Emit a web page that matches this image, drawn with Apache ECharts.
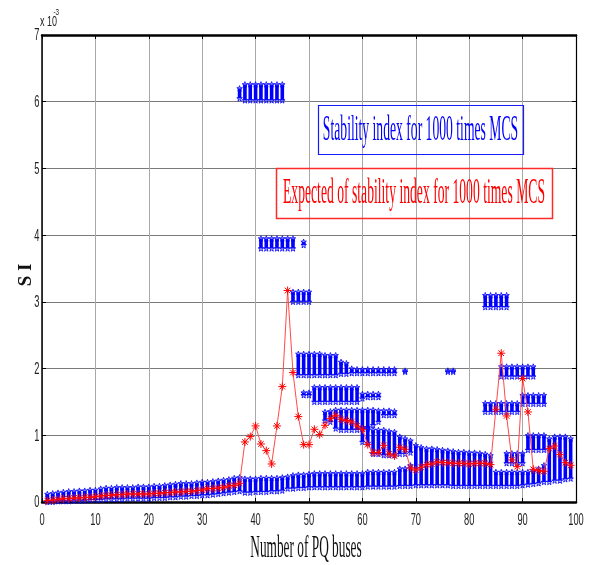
<!DOCTYPE html>
<html><head><meta charset="utf-8">
<script src="https://cdn.jsdelivr.net/npm/echarts@6/dist/echarts.min.js"></script>
<style>html,body{margin:0;padding:0;background:#fff}#c{width:589px;height:565px}</style>
</head><body><div id="c"></div>
<script>
// ---- tick labels ----
const xTicks = [0,10,20,30,40,50,60,70,80,90,100];
const yTicks = [0,1,2,3,4,5,6,7];

// ---- expected stability index (x1e-3), buses 1..99 ----
const expected = [
 0.02,0.03,0.04,0.05,0.05,0.06,0.06,0.07,0.07,0.08,
 0.09,0.10,0.10,0.11,0.11,0.12,0.12,0.12,0.12,0.12,
 0.13,0.13,0.14,0.14,0.15,0.15,0.16,0.16,0.17,0.18,
 0.20,0.20,0.21,0.22,0.24,0.25,0.28,0.90,0.98,1.14,
 0.87,0.77,0.57,1.14,1.73,3.17,1.94,1.28,0.86,0.86,
 1.09,1.01,1.15,1.25,1.30,1.24,1.22,1.20,1.14,1.09,
 0.86,0.74,0.74,0.85,0.72,0.69,0.82,0.79,0.51,0.48,
 0.52,0.56,0.57,0.60,0.59,0.59,0.58,0.58,0.58,0.57,
 0.58,0.58,0.58,0.56,1.39,2.23,1.29,0.63,0.53,1.85,
 1.35,0.49,0.47,0.46,0.80,0.84,0.71,0.59,0.55
];

// ---- MCS stability index clusters: [bus, low, high] (x1e-3) ----
const siBase = [[1,0.00,0.12],[2,0.00,0.13],[3,0.01,0.14],[4,0.01,0.15],[5,0.01,0.16],[6,0.02,0.16],[7,0.02,0.17],[8,0.02,0.17],[9,0.03,0.18],[10,0.03,0.18],[11,0.03,0.20],[12,0.04,0.21],[13,0.04,0.21],[14,0.04,0.22],[15,0.04,0.22],[16,0.05,0.22],[17,0.05,0.22],[18,0.05,0.23],[19,0.05,0.23],[20,0.05,0.23],[21,0.06,0.24],[22,0.06,0.24],[23,0.06,0.25],[24,0.07,0.26],[25,0.07,0.27],[26,0.08,0.28],[27,0.08,0.28],[28,0.09,0.28],[29,0.09,0.29],[30,0.10,0.30],[31,0.10,0.30],[32,0.11,0.31],[33,0.12,0.32],[34,0.13,0.33],[35,0.14,0.34],[36,0.15,0.36],[37,0.16,0.37]];
const siLow = [[38,0.14,0.35],[39,0.14,0.35],[40,0.15,0.35],[41,0.15,0.36],[42,0.15,0.36],[43,0.16,0.36],[44,0.16,0.36],[45,0.17,0.37],[46,0.20,0.38],[47,0.20,0.40],[48,0.21,0.41],[49,0.21,0.41],[50,0.22,0.42],[51,0.22,0.43],[52,0.22,0.43],[53,0.22,0.43],[54,0.22,0.43],[55,0.22,0.43],[56,0.22,0.43],[57,0.22,0.43],[58,0.22,0.43],[59,0.22,0.43],[60,0.22,0.43],[61,0.23,0.45],[62,0.23,0.45],[63,0.23,0.45],[64,0.23,0.45],[65,0.23,0.45],[66,0.23,0.45],[67,0.24,0.50],[68,0.24,0.50],[69,0.24,0.55],[70,0.25,0.85],[71,0.25,0.82],[72,0.25,0.80],[73,0.25,0.80],[74,0.25,0.79],[75,0.25,0.78],[76,0.25,0.77],[77,0.24,0.76],[78,0.24,0.75],[79,0.24,0.75],[80,0.24,0.74],[81,0.24,0.74],[82,0.24,0.73],[83,0.24,0.72],[84,0.24,0.70],[85,0.24,0.45],[86,0.24,0.45],[87,0.24,0.45],[88,0.24,0.45],[89,0.24,0.45],[90,0.25,0.45],[91,0.26,0.45],[92,0.27,0.47],[93,0.28,0.50],[94,0.30,0.55],[95,0.30,0.95],[96,0.32,0.98],[97,0.32,0.98],[98,0.34,0.98],[99,0.35,0.95]];
const siMid = [[60,0.90,1.12],[61,0.88,1.12],[62,0.72,1.08],[63,0.72,1.08],[64,0.70,1.08],[65,0.70,1.06],[66,0.70,1.05],[67,0.72,0.98],[68,0.72,0.95],[69,0.74,0.92],[87,0.58,0.73],[88,0.58,0.73],[89,0.58,0.73],[90,0.58,0.73],[91,0.78,1.00],[92,0.78,1.00],[93,0.78,1.00],[94,0.78,1.00]];
const si13 = [[53,1.22,1.35],[54,1.20,1.36],[55,1.10,1.38],[56,1.08,1.38],[57,1.08,1.38],[58,1.08,1.38],[59,1.08,1.38],[60,1.10,1.38],[61,1.10,1.38],[62,1.15,1.38],[63,1.20,1.37],[64,1.30,1.37],[65,1.30,1.37],[66,1.30,1.36],[83,1.35,1.48],[84,1.35,1.48],[85,1.35,1.48],[86,1.35,1.48],[87,1.35,1.48],[88,1.35,1.48],[89,1.35,1.48]];
const si16 = [[49,1.60,1.64],[50,1.60,1.64],[51,1.50,1.72],[52,1.50,1.72],[53,1.50,1.72],[54,1.50,1.72],[55,1.50,1.72],[56,1.50,1.72],[57,1.50,1.72],[58,1.50,1.72],[59,1.50,1.72],[60,1.55,1.62],[61,1.57,1.62],[62,1.57,1.62],[63,1.57,1.62],[90,1.47,1.60],[91,1.47,1.60],[92,1.47,1.60],[93,1.47,1.60],[94,1.47,1.60]];
const si20 = [[48,1.90,2.22],[49,1.90,2.22],[50,1.90,2.22],[51,1.90,2.22],[52,1.90,2.22],[53,1.90,2.20],[54,1.90,2.20],[55,1.90,2.20],[56,1.92,2.10],[57,1.92,2.08],[58,1.93,2.00],[59,1.93,1.99],[60,1.93,1.99],[61,1.93,1.99],[62,1.93,1.99],[63,1.93,1.99],[64,1.93,1.99],[65,1.93,1.99],[66,1.93,1.99],[68,1.95,1.97],[76,1.95,1.97],[77,1.95,1.97],[86,1.88,2.03],[87,1.88,2.03],[88,1.88,2.03],[89,1.88,2.03],[90,1.88,2.03],[91,1.88,2.03],[92,1.88,2.03]];
const si30 = [[47,3.00,3.15],[48,3.00,3.15],[49,3.00,3.15],[50,3.00,3.15],[83,2.92,3.10],[84,2.92,3.10],[85,2.92,3.10],[86,2.92,3.10],[87,2.92,3.10]];
const si39 = [[41,3.80,3.95],[42,3.80,3.95],[43,3.80,3.95],[44,3.80,3.95],[45,3.80,3.95],[46,3.80,3.95],[47,3.80,3.95],[49,3.85,3.90]];
const si61 = [[37,6.05,6.20],[38,6.02,6.26],[39,6.02,6.26],[40,6.02,6.26],[41,6.02,6.26],[42,6.02,6.26],[43,6.02,6.26],[44,6.02,6.26],[45,6.02,6.26]];

const clusters = [].concat(siBase, siLow, siMid, si13, si16, si20, si30, si39, si61);
const starPts = [];
clusters.forEach(c => { starPts.push([c[0], c[1]]); starPts.push([c[0], c[2]]); });
const redPts = expected.map((v, i) => [i + 1, v]);

const STAR = 'path://M0,-10L2.35,-3.24L9.51,-3.09L3.8,1.24L5.88,8.09L0,4L-5.88,8.09L-3.8,1.24L-9.51,-3.09L-2.35,-3.24Z';
const AST = 'path://M0,-10L0,10M-10,0L10,0M-7,-7L7,7M-7,7L7,-7';

const chart = echarts.init(document.getElementById('c'), null, {renderer: 'canvas'});
const gridCfg = {left: 42, right: 13, top: 35, bottom: 63};
chart.setOption({
  animation: false,
  backgroundColor: '#ffffff',
  grid: gridCfg,
  xAxis: [
    {type: 'value', min: 0, max: 100, interval: 10,
     axisLine: {show: true, onZero: false, lineStyle: {color: '#000', width: 2.5}},
     axisTick: {show: true, inside: true, length: 4, lineStyle: {color: '#000'}},
     axisLabel: {show: false},
     splitLine: {show: true, lineStyle: {color: '#a8a8a8', width: 1}}},
    {type: 'value', position: 'top', min: 0, max: 100, interval: 10,
     axisLine: {show: true, onZero: false, lineStyle: {color: '#000', width: 2.5}},
     axisTick: {show: true, inside: true, length: 4, lineStyle: {color: '#000'}},
     axisLabel: {show: false}, splitLine: {show: false}}
  ],
  yAxis: [
    {type: 'value', min: 0, max: 7, interval: 1,
     axisLine: {show: true, onZero: false, lineStyle: {color: '#000', width: 1.5}},
     axisTick: {show: true, inside: true, length: 4, lineStyle: {color: '#000'}},
     axisLabel: {show: false},
     splitLine: {show: true, lineStyle: {color: '#7a7a7a', width: 1.2}}},
    {type: 'value', position: 'right', min: 0, max: 7, interval: 1,
     axisLine: {show: true, onZero: false, lineStyle: {color: '#000', width: 1.2}},
     axisTick: {show: true, inside: true, length: 4, lineStyle: {color: '#000'}},
     axisLabel: {show: false}, splitLine: {show: false}}
  ],
  series: [
    {type: 'custom', name: 'SI', xAxisIndex: 0, yAxisIndex: 0, data: clusters,
     encode: {x: 0, y: [1, 2]}, clip: true, z: 2,
     renderItem: function (params, api) {
       const b = api.value(0), lo = api.value(1), hi = api.value(2);
       const pHi = api.coord([b, hi]), pLo = api.coord([b, lo]);
       return {type: 'rect', shape: {x: pHi[0] - 1.8, y: pHi[1], width: 3.6, height: Math.max(pLo[1] - pHi[1], 1)},
               style: {fill: '#0000ff'}};
     }},
    {type: 'scatter', name: 'SI stars', data: starPts, symbol: STAR, symbolSize: 5.5, z: 3,
     itemStyle: {color: 'rgba(60,60,255,0.35)', borderColor: '#0000ff', borderWidth: 1}},
    {type: 'line', name: 'Expected', data: redPts, symbol: AST, symbolSize: 8, showSymbol: true, z: 5,
     lineStyle: {color: '#ff4a4a', width: 1},
     itemStyle: {color: '#ff0000', borderColor: '#ff0000', borderWidth: 1}}
  ]
});

function txt(x, y, text, size, family, fill, sx, extra) {
  return Object.assign({type: 'text', x: x, y: y, scaleX: sx, z: 100,
    style: {text: text, fontSize: size, fontFamily: family, fill: fill, align: 'center', verticalAlign: 'middle'}}, extra || {});
}
const g = [];
xTicks.forEach(v => {
  const px = chart.convertToPixel({xAxisIndex: 0}, v);
  g.push(txt(px, 521, String(v), 16, 'Liberation Sans', '#222', 0.58));
});
yTicks.forEach(v => {
  const py = chart.convertToPixel({yAxisIndex: 0}, v);
  const t = txt(39.5, py + 1, String(v), 16, 'Liberation Sans', '#222', 0.58);
  t.style.align = 'right';
  g.push(t);
});
g.push(txt(306, 549, 'Number of PQ buses', 31, 'Liberation Serif', '#111', 0.43));
g.push({type: 'text', x: 26, y: 275, rotation: Math.PI / 2, z: 100,
        style: {text: 'S I', fontSize: 19, fontWeight: 'bold', fontFamily: 'Liberation Serif', fill: '#111', align: 'center', verticalAlign: 'middle'}});
const t10 = txt(40, 22, 'x 10', 15, 'Liberation Sans', '#222', 0.6); t10.style.align = 'left'; g.push(t10);
const tExp = txt(53.5, 13, '-3', 9, 'Liberation Sans', '#222', 0.7); tExp.style.align = 'left'; g.push(tExp);
// legend boxes
g.push({type: 'rect', shape: {x: 318.5, y: 105.5, width: 205, height: 49}, z: 99,
        style: {fill: 'none', stroke: '#1a1aff', lineWidth: 1.2}});
g.push(txt(420.5, 131, 'Stability index for 1000 times MCS', 35, 'Liberation Serif', '#0000ff', 0.39));
g.push({type: 'rect', shape: {x: 276.5, y: 168.5, width: 276, height: 50}, z: 99,
        style: {fill: 'none', stroke: '#ff2a2a', lineWidth: 1.5}});
g.push(txt(414, 194, 'Expected of stability index for 1000 times MCS', 35, 'Liberation Serif', '#ff0000', 0.39));
chart.setOption({graphic: g});
</script>
</body></html>
